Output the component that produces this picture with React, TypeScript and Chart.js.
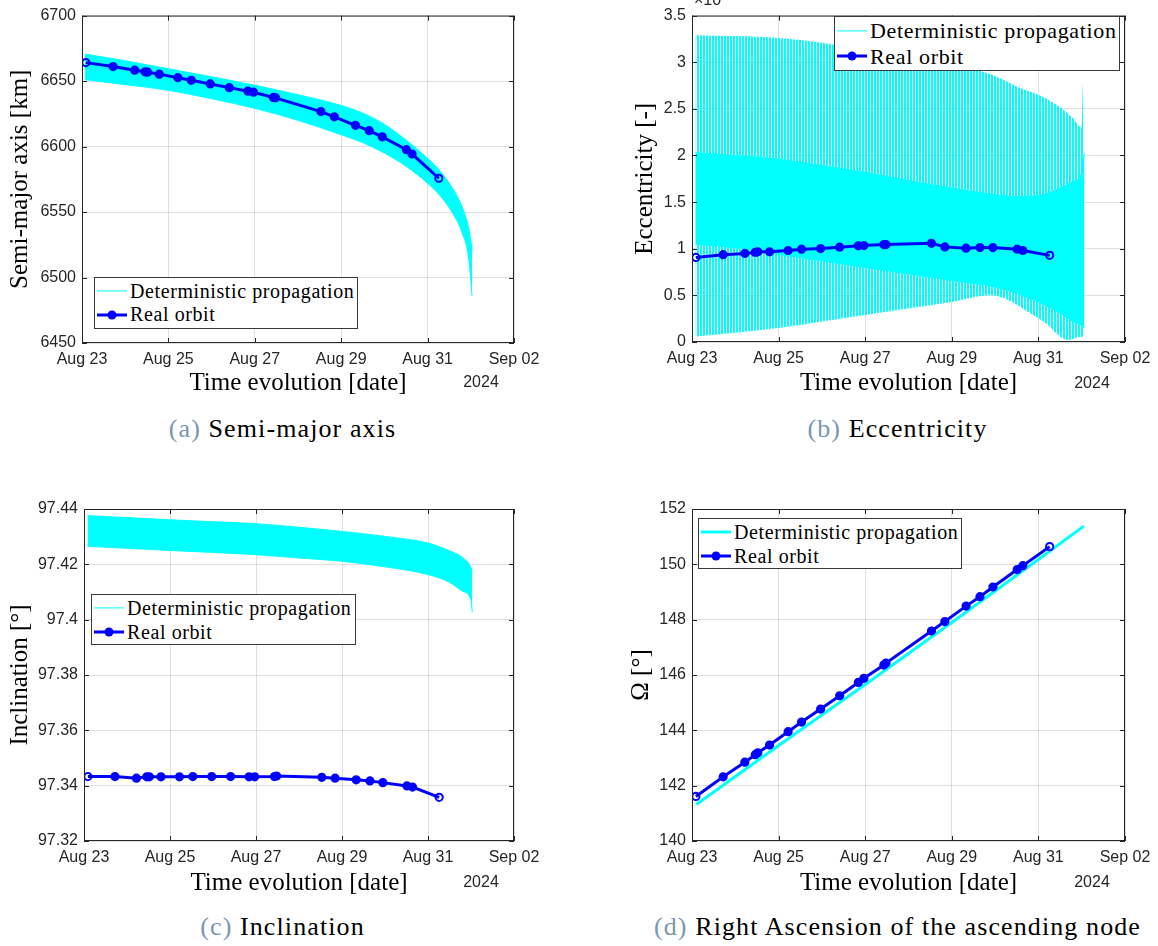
import React, { useEffect, useRef } from 'react';
import { Chart, registerables } from 'chart.js';

Chart.register(...registerables);

// ---------- shared axis text ----------
const xTickValues = [0, 2, 4, 6, 8, 10]; // days since Aug 23 00:00
const xTickLabels = ['Aug 23', 'Aug 25', 'Aug 27', 'Aug 29', 'Aug 31', 'Sep 02'];
const xYearLabel = '2024';
const xAxisTitle = 'Time evolution [date]';
const legendLabels = ['Deterministic propagation', 'Real orbit'];
const captionTags = ['(a)', '(b)', '(c)', '(d)'];
const captionTexts = ['Semi-major axis', 'Eccentricity', 'Inclination', 'Right Ascension of the ascending node'];
const eccExponent = '×10';
const eccExponentPower = '-3';

// ---------- real orbit (TLE) ----------
const realDays = [0.09, 0.72, 1.22, 1.46, 1.52, 1.79, 2.22, 2.53, 2.97, 3.41, 3.84, 3.97, 4.43, 4.48, 5.53, 5.84, 6.33, 6.65, 6.95, 7.51, 7.64, 8.26];
const realSma = [6664.1, 6661.1, 6658.3, 6657.1, 6656.8, 6655.3, 6652.6, 6650.6, 6647.8, 6645.0, 6642.3, 6641.5, 6637.5, 6637.2, 6626.7, 6622.7, 6616.2, 6612.1, 6607.4, 6597.6, 6594.3, 6575.8];
const realEcc = [0.907, 0.936, 0.95, 0.96, 0.967, 0.967, 0.981, 0.995, 1.002, 1.017, 1.031, 1.034, 1.045, 1.045, 1.058, 1.02, 1.006, 1.013, 1.013, 0.995, 0.981, 0.929];
const realInc = [97.3433, 97.3433, 97.3427, 97.3432, 97.3432, 97.3432, 97.3432, 97.3433, 97.3433, 97.3433, 97.3432, 97.3432, 97.3433, 97.3435, 97.343, 97.3427, 97.3421, 97.3417, 97.3411, 97.3399, 97.3395, 97.3358];
const realRaan = [141.61, 142.32, 142.85, 143.12, 143.19, 143.47, 143.95, 144.3, 144.77, 145.25, 145.73, 145.88, 146.36, 146.43, 147.59, 147.93, 148.49, 148.83, 149.18, 149.81, 149.95, 150.64];

// ---------- deterministic propagation (envelopes) ----------
const detSmaDays = [0.07, 1, 2, 3, 4, 5, 6, 6.5, 7, 7.5, 8, 8.3, 8.6, 8.8, 8.95, 9.03];
const detSmaUpper = [6670.6, 6665.5, 6659.4, 6653.3, 6646.8, 6639.6, 6631.4, 6625.5, 6617, 6605, 6591, 6581, 6567, 6554, 6538, 6522];
const detSmaLower = [6651.1, 6647.3, 6643.0, 6636.5, 6629.2, 6620.0, 6609.0, 6603, 6595, 6585, 6572, 6562, 6548, 6534, 6515, 6486];

const detEccMaxDays = [0.08, 1, 2, 3, 4, 5, 6, 6.9, 7.5, 8, 8.3, 8.55, 8.8, 9.0, 9.03, 9.06];
const detEccMax = [3.29, 3.28, 3.26, 3.21, 3.13, 3.05, 2.97, 2.87, 2.74, 2.65, 2.58, 2.5, 2.4, 2.3, 2.77, 2.52];
const detEccMinDays = [0.08, 1, 2, 3, 4, 5, 6, 6.9, 7.3, 7.8, 8.2, 8.5, 8.7, 8.9, 9.06];
const detEccMin = [0.06, 0.1, 0.15, 0.22, 0.29, 0.36, 0.43, 0.5, 0.45, 0.31, 0.19, 0.06, 0.02, 0.05, 0.06];
const detEccCoreDays = [0.08, 1, 2, 3, 4, 5, 6, 7, 7.5, 8, 8.5, 8.8, 9.0, 9.06];
const detEccCoreTop = [2.03, 2.0, 1.96, 1.89, 1.82, 1.73, 1.65, 1.58, 1.56, 1.57, 1.65, 1.72, 1.82, 2.02];
const detEccCoreBottom = [1.05, 1.01, 0.94, 0.87, 0.8, 0.73, 0.66, 0.59, 0.52, 0.43, 0.31, 0.22, 0.18, 0.15];

const detIncDays = [0.08, 1, 2, 3, 4, 5, 6, 7, 8, 8.5, 8.8, 9.0, 9.03];
const detIncUpper = [97.4376, 97.4369, 97.4361, 97.4354, 97.4347, 97.4334, 97.4319, 97.4301, 97.4277, 97.4249, 97.4225, 97.4188, 97.4172];
const detIncLower = [97.4265, 97.4258, 97.425, 97.4243, 97.4235, 97.4223, 97.4211, 97.4191, 97.4163, 97.4135, 97.4103, 97.407, 97.4027];

const detRaanDays = [0.1, 2, 4, 6, 8.26, 9.05];
const detRaan = [141.32, 143.45, 145.66, 147.9, 150.47, 151.38];

// ---------- y ticks ----------
const smaTicks = [6450, 6500, 6550, 6600, 6650, 6700];
const eccTicks = [0, 0.5, 1, 1.5, 2, 2.5, 3, 3.5];
const incTicks = [97.32, 97.34, 97.36, 97.38, 97.4, 97.42, 97.44];
const raanTicks = [140, 142, 144, 146, 148, 150, 152];

const yTitles = ['Semi-major axis [km]', 'Eccentricity [-]', 'Inclination [°]', 'Ω [°]'];

// ---------- styles ----------
const SERIF = '"Liberation Serif", "Times New Roman", serif';
const SANS = '"Liberation Sans", Arial, sans-serif';
const CYAN = '#00ffff';
const BLUE = '#0000ff';
const AXIS = '#262626';
const GRID = 'rgba(38,38,38,0.15)';
const CLEAR = 'rgba(0,0,0,0)';

const pts = (xs: number[], ys: number[]) => xs.map((x, i) => ({ x, y: ys[i] }));

const realSet = (ys: number[]) => ({
  data: pts(realDays, ys),
  borderColor: BLUE,
  borderWidth: 3,
  pointRadius: 3.6,
  pointBorderWidth: 2,
  pointBorderColor: BLUE,
  // open markers: the line fills the inner ones, the two ends stay hollow
  pointBackgroundColor: realDays.map((_, i) => (i === 0 || i === realDays.length - 1 ? CLEAR : BLUE)),
  fill: false,
  tension: 0,
});

const bandTop = (xs: number[], ys: number[], bg: any, border: string, bw: number) => ({
  data: pts(xs, ys),
  borderColor: border,
  borderWidth: bw,
  backgroundColor: bg,
  fill: '+1',
  pointRadius: 0,
  cubicInterpolationMode: 'monotone',
});
const bandBottom = (xs: number[], ys: number[], border: string, bw: number) => ({
  data: pts(xs, ys),
  borderColor: border,
  borderWidth: bw,
  fill: false,
  pointRadius: 0,
  cubicInterpolationMode: 'monotone',
});

const framePlugin = {
  id: 'matlabFrame',
  afterDatasetsDraw(chart: any) {
    const { ctx, chartArea } = chart;
    const { left, right, top, bottom } = chartArea;
    ctx.save();
    ctx.strokeStyle = AXIS;
    ctx.lineWidth = 1;
    ctx.strokeRect(left + 0.5, top + 0.5, right - left - 1, bottom - top - 1);
    const tl = 5;
    ctx.beginPath();
    const xs = chart.scales.x;
    for (const t of xs.ticks) {
      const p = Math.round(xs.getPixelForValue(t.value)) + 0.5;
      ctx.moveTo(p, bottom);
      ctx.lineTo(p, bottom - tl);
      ctx.moveTo(p, top);
      ctx.lineTo(p, top + tl);
    }
    const ys = chart.scales.y;
    for (const t of ys.ticks) {
      const p = Math.round(ys.getPixelForValue(t.value)) + 0.5;
      ctx.moveTo(left, p);
      ctx.lineTo(left + tl, p);
      ctx.moveTo(right, p);
      ctx.lineTo(right - tl, p);
    }
    ctx.stroke();
    ctx.restore();
  },
};

type Spec = {
  left: number; top: number; w: number; h: number;
  area: [number, number, number, number]; // l, r, t, b (page coords)
  yTicks: number[];
  yTitle: string;
  yTitleX: number;
  datasets: (pattern: any) => any[];
};

function buildOptions(s: Spec) {
  const [l, r, t, b] = s.area;
  const relL = l - s.left;
  const relR = r - s.left;
  const relT = t - s.top;
  const relB = b - s.top;
  const tickFont = { family: SANS, size: 16 };
  const titleFont = { family: SERIF, size: 25 };
  return {
    responsive: false,
    animation: false,
    devicePixelRatio: 1,
    layout: { padding: { left: 0, top: relT, right: s.w - relR, bottom: 0 } },
    plugins: { legend: { display: false }, tooltip: { enabled: false } },
    scales: {
      x: {
        type: 'linear',
        min: xTickValues[0],
        max: xTickValues[xTickValues.length - 1],
        afterFit: (sc: any) => { sc.height = s.h - relB; },
        afterBuildTicks: (sc: any) => { sc.ticks = xTickValues.map((v) => ({ value: v })); },
        ticks: {
          autoSkip: false,
          maxRotation: 0,
          padding: 7,
          font: tickFont,
          color: AXIS,
          callback: (_v: any, i: number) => xTickLabels[i],
        },
        grid: { color: GRID, drawTicks: false, lineWidth: 1 },
        border: { display: false },
        title: { display: true, text: xAxisTitle, font: titleFont, color: '#000', padding: { top: 0, bottom: 2 } },
      },
      y: {
        type: 'linear',
        min: s.yTicks[0],
        max: s.yTicks[s.yTicks.length - 1],
        afterFit: (sc: any) => { sc.width = relL; },
        afterBuildTicks: (sc: any) => { sc.ticks = s.yTicks.map((v) => ({ value: v })); },
        ticks: {
          padding: 6,
          font: tickFont,
          color: AXIS,
          callback: (v: any) => String(parseFloat(Number(v).toFixed(4))),
        },
        grid: { color: GRID, drawTicks: false, lineWidth: 1 },
        border: { display: false },
        title: { display: true, text: s.yTitle, font: titleFont, color: '#000', padding: { top: s.yTitleX - s.left - 15, bottom: 0 } },
      },
    },
  };
}

function Panel({ spec }: { spec: Spec }) {
  const ref = useRef<HTMLCanvasElement | null>(null);
  useEffect(() => {
    const canvas = ref.current!;
    const pc = document.createElement('canvas');
    pc.width = 3;
    pc.height = 1;
    const pctx = pc.getContext('2d')!;
    pctx.fillStyle = CYAN;
    pctx.fillRect(0, 0, 2, 1);
    const pattern = canvas.getContext('2d')!.createPattern(pc, 'repeat');
    const chart = new Chart(canvas, {
      type: 'line',
      data: { datasets: spec.datasets(pattern) },
      options: buildOptions(spec) as any,
      plugins: [framePlugin as any],
    });
    return () => chart.destroy();
  }, []);
  return (
    <canvas
      ref={ref}
      width={spec.w}
      height={spec.h}
      style={{ position: 'absolute', left: spec.left, top: spec.top, width: spec.w, height: spec.h }}
    />
  );
}

const specs: Spec[] = [
  {
    left: 0, top: 0, w: 560, h: 400, area: [82, 514, 11, 343],
    yTicks: smaTicks, yTitle: yTitles[0], yTitleX: 20,
    datasets: () => [
      realSet(realSma),
      bandTop(detSmaDays, detSmaUpper, CYAN, CYAN, 1),
      bandBottom(detSmaDays, detSmaLower, CYAN, 1),
    ],
  },
  {
    left: 580, top: 0, w: 578, h: 400, area: [692, 1125, 11, 342],
    yTicks: eccTicks, yTitle: yTitles[1], yTitleX: 645,
    datasets: (pattern) => [
      realSet(realEcc),
      bandTop(detEccMaxDays, detEccMax, pattern, CLEAR, 0),
      bandBottom(detEccMinDays, detEccMin, CLEAR, 0),
      bandTop(detEccCoreDays, detEccCoreTop, CYAN, CYAN, 1),
      bandBottom(detEccCoreDays, detEccCoreBottom, CYAN, 1),
    ],
  },
  {
    left: 0, top: 490, w: 560, h: 410, area: [84, 514, 509, 841],
    yTicks: incTicks, yTitle: yTitles[2], yTitleX: 20,
    datasets: () => [
      realSet(realInc),
      bandTop(detIncDays, detIncUpper, CYAN, CYAN, 1),
      bandBottom(detIncDays, detIncLower, CYAN, 1),
    ],
  },
  {
    left: 580, top: 490, w: 578, h: 410, area: [692, 1125, 509, 841],
    yTicks: raanTicks, yTitle: yTitles[3], yTitleX: 641,
    datasets: () => [
      realSet(realRaan),
      { data: pts(detRaanDays, detRaan), borderColor: CYAN, borderWidth: 3, pointRadius: 0, fill: false, tension: 0 },
    ],
  },
];

type LegendSpec = { x: number; y: number; w: number; h: number; fs: number; ls: number; row: number; cyanW: number };
const legendSpecs: LegendSpec[] = [
  { x: 94, y: 277, w: 264, h: 52, fs: 20, ls: 0.6, row: 23.5, cyanW: 1.2 },
  { x: 834, y: 16, w: 286, h: 55, fs: 22, ls: 0.65, row: 25.7, cyanW: 1.2 },
  { x: 91, y: 594, w: 265, h: 51, fs: 20, ls: 0.6, row: 24, cyanW: 1.2 },
  { x: 698, y: 518, w: 264, h: 51, fs: 20, ls: 0.6, row: 24, cyanW: 3 },
];

function Legend({ s }: { s: LegendSpec }) {
  const row = (i: number) => (
    <div key={i} style={{ display: 'flex', alignItems: 'center', height: s.row }}>
      <div style={{ position: 'relative', width: 30, height: s.row, marginLeft: 2, flex: 'none' }}>
        <div
          style={{
            position: 'absolute', left: 0, right: 0, top: '50%',
            height: i === 0 ? s.cyanW : 3, transform: 'translateY(-50%)',
            background: i === 0 ? CYAN : BLUE,
          }}
        />
        {i === 1 && (
          <div
            style={{
              position: 'absolute', left: '50%', top: '50%', width: 9, height: 9,
              borderRadius: '50%', background: BLUE, transform: 'translate(-50%,-50%)',
            }}
          />
        )}
      </div>
      <span style={{ marginLeft: 3, whiteSpace: 'nowrap', lineHeight: `${s.row}px` }}>{legendLabels[i]}</span>
    </div>
  );
  return (
    <div
      style={{
        position: 'absolute', left: s.x, top: s.y, width: s.w, height: s.h, boxSizing: 'border-box',
        border: '1px solid #3a3a3a', background: '#fff', display: 'flex', flexDirection: 'column',
        justifyContent: 'center', fontFamily: SERIF, fontSize: s.fs, letterSpacing: s.ls, color: '#000',
      }}
    >
      {row(0)}
      {row(1)}
    </div>
  );
}

const yearPos = [
  { x: 481, y: 374 },
  { x: 1092, y: 375 },
  { x: 481, y: 874 },
  { x: 1092, y: 874 },
];

const captionPos = [
  { x: 0, y: 414 },
  { x: 615, y: 414 },
  { x: 0, y: 912 },
  { x: 615, y: 912 },
];

export default function App() {
  return (
    <div style={{ position: 'absolute', left: 0, top: 0, width: 1158, height: 946, background: '#fff', overflow: 'hidden' }}>
      {specs.map((s, i) => <Panel key={i} spec={s} />)}
      {legendSpecs.map((s, i) => <Legend key={i} s={s} />)}
      {yearPos.map((p, i) => (
        <div
          key={i}
          style={{
            position: 'absolute', left: p.x - 30, top: p.y, width: 60, textAlign: 'center',
            fontFamily: SANS, fontSize: 16, lineHeight: '16px', color: AXIS,
          }}
        >
          {xYearLabel}
        </div>
      ))}
      <div style={{ position: 'absolute', left: 694, top: -8, fontFamily: SANS, fontSize: 16, lineHeight: '16px', color: AXIS, whiteSpace: 'nowrap' }}>
        {eccExponent}
        <span style={{ position: 'relative', top: -8, fontSize: 11 }}>{eccExponentPower}</span>
      </div>
      {captionPos.map((p, i) => (
        <div
          key={i}
          style={{
            position: 'absolute', left: p.x, top: p.y, width: 565, textAlign: 'center',
            fontFamily: SERIF, fontSize: 26, lineHeight: '30px', letterSpacing: 1.1, color: '#000', whiteSpace: 'nowrap',
          }}
        >
          <span style={{ color: '#7b96b2' }}>{captionTags[i]}</span> {captionTexts[i]}
        </div>
      ))}
    </div>
  );
}
